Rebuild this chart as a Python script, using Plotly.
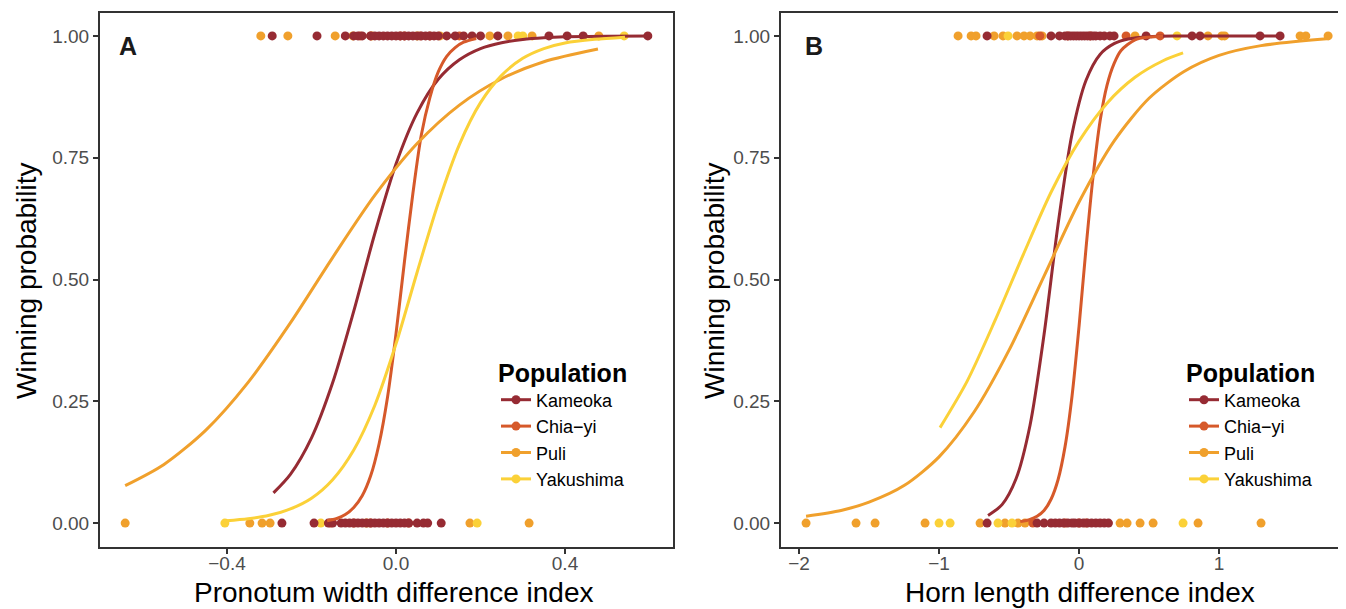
import plotly.graph_objects as go

populations = ["Kameoka", "Chia\u2212yi", "Puli", "Yakushima"]
colors = ["#962B33", "#D6592A", "#F0A02C", "#FBD138"]

# ---------------- Panel A: Pronotum width difference index ----------------
a_kameoka_win = [-0.293, -0.187, -0.12, -0.10, -0.09, -0.08, -0.06, -0.05, -0.04, -0.03, -0.02, -0.01,
                 0.0, 0.01, 0.02, 0.03, 0.04, 0.05, 0.06, 0.07, 0.08, 0.09, 0.10, 0.12, 0.14, 0.16,
                 0.18, 0.20, 0.241, 0.362, 0.405, 0.443, 0.596]
a_kameoka_lose = [-0.27, -0.194, -0.16, -0.15, -0.13, -0.12, -0.11, -0.10, -0.09, -0.08, -0.07, -0.06,
                  -0.05, -0.04, -0.03, -0.02, -0.01, 0.0, 0.01, 0.02, 0.03, 0.05, 0.065, 0.075, 0.107]
a_chiayi_win = [-0.085, -0.06, 0.01, 0.02, 0.057, 0.08, 0.15]
a_chiayi_lose = [-0.155, -0.10, -0.06, -0.02, 0.03]
a_puli_win = [-0.320, -0.256, -0.144, -0.102, -0.057, 0.104, 0.222, 0.265, 0.322, 0.480]
a_puli_lose = [-0.641, -0.346, -0.317, -0.298, -0.07, 0.175, 0.315]
a_yaku_win = [0.05, 0.289, 0.30, 0.54]
a_yaku_lose = [-0.405, -0.178, 0.192]

a_kameoka_curve_x = [-0.29, -0.25, -0.2, -0.15, -0.1, -0.05, 0.0, 0.05, 0.1, 0.15, 0.2, 0.25, 0.3, 0.35, 0.4, 0.5, 0.6]
a_kameoka_curve_p = [0.062, 0.100, 0.175, 0.288, 0.435, 0.595, 0.737, 0.842, 0.911, 0.951, 0.974, 0.986, 0.9926, 0.9961, 0.998, 0.9994, 0.9998]
a_chiayi_curve_x = [-0.163, -0.14, -0.12, -0.1, -0.08, -0.06, -0.04, -0.02, 0.0, 0.02, 0.04, 0.06, 0.08, 0.1, 0.12, 0.14, 0.16, 0.19]
a_chiayi_curve_p = [0.005, 0.0095, 0.0175, 0.032, 0.056, 0.097, 0.163, 0.259, 0.389, 0.537, 0.677, 0.797, 0.873, 0.926, 0.958, 0.976, 0.987, 0.9946]
a_puli_curve_x = [-0.641, -0.55, -0.45, -0.35, -0.25, -0.15, -0.05, 0.05, 0.15, 0.25, 0.35, 0.478]
a_puli_curve_p = [0.077, 0.120, 0.191, 0.289, 0.411, 0.545, 0.673, 0.779, 0.858, 0.912, 0.947, 0.973]
a_yaku_curve_x = [-0.402, -0.35, -0.3, -0.25, -0.2, -0.15, -0.1, -0.05, 0.0, 0.05, 0.1, 0.15, 0.2, 0.25, 0.3, 0.35, 0.4, 0.47, 0.542]
a_yaku_curve_p = [0.0049, 0.009, 0.016, 0.029, 0.051, 0.089, 0.150, 0.242, 0.368, 0.515, 0.657, 0.777, 0.863, 0.919, 0.954, 0.974, 0.9855, 0.993, 0.9973]

# ---------------- Panel B: Horn length difference index ----------------
b_kameoka_win = [-0.657, -0.2, -0.14, -0.10, -0.08, -0.06, -0.04, -0.02, 0.0, 0.02, 0.04, 0.06, 0.08,
                 0.10, 0.12, 0.15, 0.18, 0.22, 0.25, 0.479, 0.807, 0.864, 1.293, 1.436]
b_kameoka_lose = [-0.657, -0.30, -0.25, -0.20, -0.17, -0.14, -0.11, -0.08, -0.05, -0.03, 0.0, 0.03,
                  0.06, 0.09, 0.12, 0.15, 0.18, 0.21]
b_chiayi_win = [-0.28, -0.08, 0.08, 0.336, 0.579]
b_chiayi_lose = [-0.33, -0.10, 0.0, 0.05]
b_puli_win = [-0.864, -0.771, -0.736, -0.607, -0.543, -0.443, -0.393, -0.35, -0.30, -0.264, 0.40,
              0.921, 1.02, 1.04, 1.579, 1.62, 1.779]
b_puli_lose = [-1.95, -1.593, -1.457, -1.10, -0.707, -0.529, -0.436, -0.386, 0.293, 0.343, 0.436,
               0.529, 0.85, 1.30]
b_yaku_win = [-0.507, 0.70]
b_yaku_lose = [-1.0, -0.921, -0.579, -0.479, 0.743]

b_kameoka_curve_x = [-0.65, -0.55, -0.45, -0.35, -0.25, -0.15, -0.05, 0.05, 0.15, 0.25, 0.35, 0.5, 0.7, 1.0, 1.46]
b_kameoka_curve_p = [0.0157, 0.038, 0.091, 0.201, 0.387, 0.613, 0.799, 0.909, 0.962, 0.984, 0.9937, 0.9984, 0.9997, 0.9999, 1.0]
b_chiayi_curve_x = [-0.42, -0.35, -0.3, -0.25, -0.2, -0.15, -0.1, -0.05, 0.0, 0.05, 0.1, 0.15, 0.2, 0.25, 0.3, 0.4, 0.5, 0.6]
b_chiayi_curve_p = [0.003, 0.0075, 0.014, 0.026, 0.049, 0.089, 0.157, 0.261, 0.404, 0.565, 0.711, 0.825, 0.899, 0.943, 0.970, 0.992, 0.9975, 0.9994]
b_puli_curve_x = [-1.95, -1.7, -1.5, -1.25, -1.0, -0.75, -0.5, -0.25, 0.0, 0.25, 0.5, 0.75, 1.0, 1.3, 1.77]
b_puli_curve_p = [0.0143, 0.026, 0.043, 0.077, 0.136, 0.228, 0.355, 0.507, 0.659, 0.784, 0.872, 0.927, 0.960, 0.980, 0.994]
b_yaku_curve_x = [-0.993, -0.8, -0.6, -0.4, -0.2, 0.0, 0.2, 0.4, 0.6, 0.743]
b_yaku_curve_p = [0.196, 0.291, 0.416, 0.550, 0.679, 0.784, 0.862, 0.915, 0.949, 0.965]

y_ticks = [0.0, 0.25, 0.5, 0.75, 1.0]
y_ticktext = ["0.00", "0.25", "0.50", "0.75", "1.00"]
a_xticks = [-0.4, 0.0, 0.4]
a_xticktext = ["\u22120.4", "0.0", "0.4"]
b_xticks = [-2, -1, 0, 1]
b_xticktext = ["\u22122", "\u22121", "0", "1"]

FONT = "Liberation Sans, Arial, Helvetica, sans-serif"

# page has an 8px body margin: lay out in reference-window pixels and convert
OFF = 8
W, H = 1346 - OFF, 609 - OFF


def px(x):
    return (x - OFF) / W


def py(y):
    return 1 - (y - OFF) / H


fig = go.Figure()

panels = [
    ("x", "y", "legend",
     [a_kameoka_win, a_chiayi_win, a_puli_win, a_yaku_win],
     [a_kameoka_lose, a_chiayi_lose, a_puli_lose, a_yaku_lose],
     [(a_kameoka_curve_x, a_kameoka_curve_p), (a_chiayi_curve_x, a_chiayi_curve_p),
      (a_puli_curve_x, a_puli_curve_p), (a_yaku_curve_x, a_yaku_curve_p)]),
    ("x2", "y2", "legend2",
     [b_kameoka_win, b_chiayi_win, b_puli_win, b_yaku_win],
     [b_kameoka_lose, b_chiayi_lose, b_puli_lose, b_yaku_lose],
     [(b_kameoka_curve_x, b_kameoka_curve_p), (b_chiayi_curve_x, b_chiayi_curve_p),
      (b_puli_curve_x, b_puli_curve_p), (b_yaku_curve_x, b_yaku_curve_p)]),
]

point_order = [2, 3, 1, 0]  # Puli, Yakushima, Chia-yi, Kameoka
for xa, ya, lg, wins, loses, curves in panels:
    for i in point_order:
        xs = list(wins[i]) + list(loses[i])
        ys = [1.0] * len(wins[i]) + [0.0] * len(loses[i])
        fig.add_trace(go.Scatter(x=xs, y=ys, mode="markers", xaxis=xa, yaxis=ya,
                                 marker=dict(size=9, color=colors[i], line=dict(width=0)),
                                 showlegend=False, hoverinfo="skip"))
    for i in range(4):
        cx, cp = curves[i]
        fig.add_trace(go.Scatter(x=cx, y=cp, mode="lines", xaxis=xa, yaxis=ya,
                                 line=dict(color=colors[i], width=3, shape="spline", smoothing=0.8),
                                 showlegend=False, hoverinfo="skip"))
    for i in range(4):
        fig.add_trace(go.Scatter(x=[None], y=[None], mode="lines+markers", xaxis=xa, yaxis=ya,
                                 name=populations[i], legend=lg,
                                 line=dict(color=colors[i], width=3),
                                 marker=dict(size=9, color=colors[i])))

axis_common = dict(showgrid=False, zeroline=False, showline=True, mirror=True,
                   linecolor="#333333", linewidth=2, ticks="outside", ticklen=5,
                   tickwidth=2, tickcolor="#333333",
                   tickfont=dict(family=FONT, size=19, color="#4D4D4D"))

ydom = [py(546.5), py(13)]
fig.update_layout(
    width=W, height=H,
    margin=dict(l=0, r=0, t=0, b=0),
    paper_bgcolor="white", plot_bgcolor="white",
    font=dict(family=FONT),
    xaxis=dict(domain=[px(100), px(673)], range=[-0.7006, 0.6556], ticklabelstandoff=-6,
               tickvals=a_xticks, ticktext=a_xticktext, anchor="y", **axis_common),
    yaxis=dict(domain=ydom, range=[-0.048, 1.047], tickvals=y_ticks, ticktext=y_ticktext,
               anchor="x", **axis_common),
    xaxis2=dict(domain=[px(781), px(1340)], range=[-2.129, 1.864], ticklabelstandoff=-6,
                tickvals=b_xticks, ticktext=b_xticktext, anchor="y2", **axis_common),
    yaxis2=dict(domain=ydom, range=[-0.048, 1.047], tickvals=y_ticks, ticktext=y_ticktext,
                anchor="x2", **axis_common),
)

legend_common = dict(
    title=dict(text="<b>Population</b>", font=dict(family=FONT, size=25, color="black")),
    font=dict(family=FONT, size=18, color="black"),
    bgcolor="rgba(0,0,0,0)", borderwidth=0,
    xanchor="left", yanchor="top", itemwidth=30, tracegroupgap=0,
)
fig.update_layout(
    legend=dict(x=px(496), y=py(349), **legend_common),
    legend2=dict(x=px(1184), y=py(349), **legend_common),
)

for txt, x, y in [("<b>A</b>", 128, 46), ("<b>B</b>", 814, 46)]:
    fig.add_annotation(xref="paper", yref="paper", x=px(x), y=py(y), text=txt,
                       showarrow=False, xanchor="center", yanchor="middle",
                       font=dict(family=FONT, size=25, color="#1A1A1A"))

titles = [
    ("Pronotum width difference index", 394, 592, 0),
    ("Horn length difference index", 1080, 592, 0),
    ("Winning probability", 26, 281, -90),
    ("Winning probability", 714, 281, -90),
]
for t, x, y, ang in titles:
    fig.add_annotation(xref="paper", yref="paper", x=px(x), y=py(y), text=t, showarrow=False,
                       xanchor="center", yanchor="middle", textangle=ang,
                       font=dict(family=FONT, size=28, color="black"))

fig.write_html("out.html")
